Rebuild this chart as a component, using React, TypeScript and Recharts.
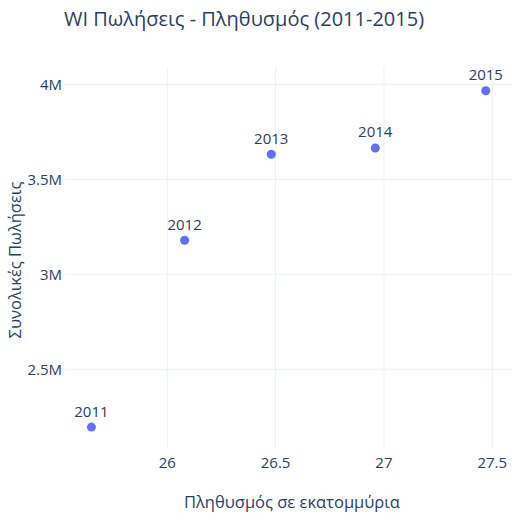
import { ScatterChart, Scatter, XAxis, YAxis, ZAxis, ReferenceLine, LabelList } from 'recharts';

const years = ['2011', '2012', '2013', '2014', '2015'];
const population = [25.65, 26.08, 26.48, 26.96, 27.47];
const sales = [2196000, 3179000, 3632000, 3665000, 3966000];

const xTicks = [26, 26.5, 27, 27.5];
const yTicks = [2500000, 3000000, 3500000, 4000000];

const data = years.map((year, i) => ({ year, x: population[i], y: sales[i] }));

const FONT = '"Open Sans", sans-serif';
const TEXT = '#2a3f5f';
const GRID = '#ebf0f8';

function formatMillions(v: number): string {
  return `${v / 1000000}M`;
}

export default function App() {
  return (
    <div style={{ position: 'absolute', left: 0, top: 0, width: 512, height: 513, background: '#fff', fontFamily: FONT }}>
      <div
        style={{
          position: 'absolute',
          left: 64,
          top: 5,
          fontSize: 20,
          color: TEXT,
          whiteSpace: 'nowrap',
        }}
      >
        WI Πωλήσεις - Πληθυσμός (2011-2015)
      </div>
      <ScatterChart width={512} height={513} margin={{ top: 67, right: 0, bottom: 0, left: 0 }}>
        {xTicks.map((t) => (
          <ReferenceLine key={`vx-${t}`} x={t} stroke={GRID} strokeWidth={1} />
        ))}
        {yTicks.map((t) => (
          <ReferenceLine key={`hy-${t}`} y={t} stroke={GRID} strokeWidth={1} />
        ))}
        <XAxis
          type="number"
          dataKey="x"
          domain={[25.528, 27.591]}
          ticks={xTicks}
          allowDataOverflow
          height={65}
          axisLine={false}
          tickLine={false}
          tickSize={0}
          tickMargin={9}
          tick={{ fill: TEXT, fontSize: 15, fontFamily: FONT }}
          label={{
            content: () => (
              <text x={292} y={508} textAnchor="middle" fill={TEXT} fontSize={16.5} fontFamily={FONT}>
                Πληθυσμός σε εκατομμύρια
              </text>
            ),
          }}
        />
        <YAxis
          type="number"
          dataKey="y"
          domain={[2086000, 4091000]}
          ticks={yTicks}
          allowDataOverflow
          width={65}
          axisLine={false}
          tickLine={false}
          tickSize={0}
          tickMargin={3}
          tickFormatter={formatMillions}
          tick={{ fill: TEXT, fontSize: 15, fontFamily: FONT }}
          label={{
            content: () => (
              <text
                x={21}
                y={260}
                textAnchor="middle"
                fill={TEXT}
                fontSize={16.5}
                fontFamily={FONT}
                transform="rotate(-90 21 260)"
              >
                Συνολικές Πωλήσεις
              </text>
            ),
          }}
        />
        <ZAxis range={[50, 50]} />
        <Scatter data={data} fill="#636efa" isAnimationActive={false}>
          <LabelList dataKey="year" position="top" offset={6} fill={TEXT} fontSize={15} fontFamily={FONT} />
        </Scatter>
      </ScatterChart>
    </div>
  );
}
